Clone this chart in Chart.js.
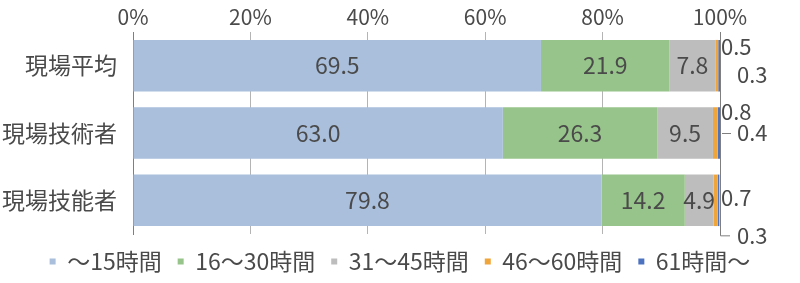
<!DOCTYPE html>
<html lang="ja">
<head>
<meta charset="utf-8">
<title>労働時間の分布</title>
<script src="https://cdn.jsdelivr.net/npm/chart.js@4/dist/chart.umd.min.js"></script>
<style>
    html, body { margin: 0; padding: 0; background: #fff; }
    #wrap { width: 800px; height: 283px; position: relative; }
</style>
</head>
<body>
<div id="wrap"><canvas id="chart"></canvas></div>
<script>
// categories and series (%)
const categories = ['現場平均', '現場技術者', '現場技能者'];
const seriesNames = ['～15時間', '16～30時間', '31～45時間', '46～60時間', '61時間～'];
const upTo15 = [69.5, 63.0, 79.8];
const h16to30 = [21.9, 26.3, 14.2];
const h31to45 = [7.8, 9.5, 4.9];
const h46to60 = [0.5, 0.8, 0.7];
const over61 = [0.3, 0.4, 0.3];
const xTicks = [0, 20, 40, 60, 80, 100];

const colors = ['#a9bfdc', '#97c48a', '#bdbdbd', '#f0a53a', '#4d72bf'];
const FONT = "'Noto Sans CJK JP', sans-serif";
const TEXT = '#4a4a4a';

// where the small outside labels sit (offset from bar centre, px)
const smallLabelStyle = [
    { a: -19, b: 9, lead: 'none' },
    { a: -21, b: 0, lead: 'dash' },
    { a: -3, b: 35, lead: 'elbow' }
];

const seriesData = [upTo15, h16to30, h31to45, h46to60, over61];

// labels inside the bars + small values outside to the right
const labelPlugin = {
    id: 'labels',
    afterDatasetsDraw(chart) {
        const ctx = chart.ctx;
        const x = chart.scales.x;
        ctx.save();
        ctx.fillStyle = TEXT;
        ctx.font = '23px ' + FONT;
        ctx.textBaseline = 'middle';
        for (let d = 0; d < 3; d++) {
            chart.getDatasetMeta(d).data.forEach((bar, i) => {
                ctx.textAlign = 'center';
                ctx.fillText(seriesData[d][i].toFixed(1), (bar.base + bar.x) / 2, bar.y);
            });
        }
        const right = x.getPixelForValue(100);
        ctx.font = '22px ' + FONT;
        chart.getDatasetMeta(0).data.forEach((bar, i) => {
            const st = smallLabelStyle[i];
            ctx.textAlign = 'left';
            ctx.fillText(h46to60[i].toFixed(1), right + 1, bar.y + st.a);
            ctx.fillText(over61[i].toFixed(1), right + 17, bar.y + st.b);
            ctx.strokeStyle = '#7f7f7f';
            ctx.lineWidth = 1;
            ctx.beginPath();
            if (st.lead === 'dash') {
                ctx.moveTo(right + 2, bar.y + st.b + 0.5);
                ctx.lineTo(right + 11, bar.y + st.b + 0.5);
            } else if (st.lead === 'elbow') {
                ctx.moveTo(right + 0.5, bar.y + bar.height / 2);
                ctx.lineTo(right + 0.5, bar.y + st.b + 0.5);
                ctx.lineTo(right + 10, bar.y + st.b + 0.5);
            }
            ctx.stroke();
        });
        ctx.restore();
    }
};

new Chart(document.getElementById('chart'), {
    type: 'bar',
    data: {
        labels: categories,
        datasets: seriesNames.map((name, k) => ({
            label: name,
            data: seriesData[k],
            backgroundColor: colors[k],
            borderWidth: 0,
            barPercentage: 0.765,
            categoryPercentage: 1
        }))
    },
    options: {
        indexAxis: 'y',
        responsive: true,
        maintainAspectRatio: false,
        animation: false,
        layout: { padding: 0 },
        scales: {
            x: {
                position: 'top',
                stacked: true,
                min: 0,
                max: 100,
                afterBuildTicks: scale => { scale.ticks = xTicks.map(v => ({ value: v })); },
                afterFit: scale => { scale.height = 32; },
                ticks: {
                    callback: v => v + '%',
                    color: TEXT,
                    font: { family: FONT, size: 21 },
                    padding: 2
                },
                grid: {
                    color: ctx => (ctx.tick && (ctx.tick.value === 0 || ctx.tick.value === 100)) ? '#7f7f7f' : '#b4b4b4',
                    drawTicks: false
                },
                border: { display: false }
            },
            y: {
                stacked: true,
                afterFit: scale => { scale.width = 133; },
                ticks: {
                    color: TEXT,
                    font: { family: FONT, size: 23 },
                    padding: 8
                },
                grid: { display: false },
                border: { display: true, color: '#7f7f7f' }
            },
            // empty axis that only keeps room for the small labels on the right
            side: {
                type: 'linear',
                position: 'right',
                ticks: { display: false },
                grid: { display: false },
                border: { display: false },
                afterFit: scale => { scale.width = 80; }
            }
        },
        plugins: {
            legend: {
                position: 'bottom',
                labels: {
                    boxWidth: 6,
                    boxHeight: 6,
                    padding: 16,
                    color: TEXT,
                    font: { family: FONT, size: 23 }
                }
            },
            tooltip: { enabled: false }
        }
    },
    plugins: [labelPlugin]
});
</script>
</body>
</html>
